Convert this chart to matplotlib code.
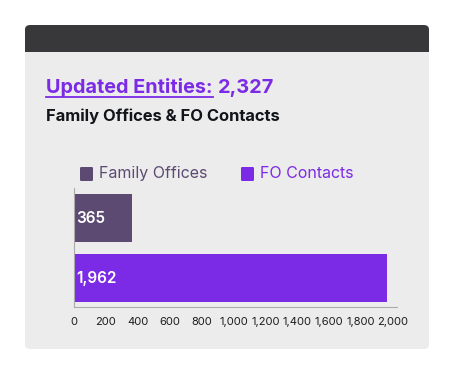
import matplotlib
matplotlib.use("Agg")
import matplotlib.pyplot as plt
from matplotlib.patches import FancyBboxPatch, Rectangle
from matplotlib.ticker import FuncFormatter

plt.rcParams['font.family'] = ['Inter', 'DejaVu Sans']

# data
categories = ['Family Offices', 'FO Contacts']
values = [365, 1962]
colors = ['#5c4a73', '#7b2ae6']
xticks = [0, 200, 400, 600, 800, 1000, 1200, 1400, 1600, 1800, 2000]
total = 2327

W, H = 454, 374
fig = plt.figure(figsize=(W / 100, H / 100), dpi=100)
fig.patch.set_facecolor('white')

def fx(x):
    return x / W

def fy(y):
    return 1 - y / H

# card background (behind the axes)
card = FancyBboxPatch((fx(25), fy(349)), fx(429) - fx(25), fy(25) - fy(349),
                      boxstyle="round,pad=0,rounding_size=0.012",
                      transform=fig.transFigure, facecolor='#ececec', edgecolor='none',
                      zorder=-3)
fig.patches.append(card)
head = FancyBboxPatch((fx(25), fy(62)), fx(429) - fx(25), fy(25) - fy(62),
                      boxstyle="round,pad=0,rounding_size=0.012",
                      transform=fig.transFigure, facecolor='#38383a', edgecolor='none',
                      zorder=-2)
fig.patches.append(head)
fig.patches.append(Rectangle((fx(25), fy(64)), fx(429) - fx(25), fy(52) - fy(64),
                             transform=fig.transFigure, facecolor='#ececec',
                             edgecolor='none', zorder=-1))

# titles
t1 = fig.text(fx(46), fy(93), 'Updated Entities:', color='#7b2ae6', fontsize=14.3,
              fontweight='bold', va='baseline')
fig.canvas.draw()
bb = t1.get_window_extent().transformed(fig.transFigure.inverted())
fig.add_artist(plt.Line2D([bb.x0, bb.x1], [fy(97), fy(97)], color='#7b2ae6', lw=1.3,
                          transform=fig.transFigure))
fig.text(bb.x1 + fx(5), fy(93), f'{total:,}', color='#7b2ae6', fontsize=14.3,
         fontweight='bold', va='baseline')
fig.text(fx(46), fy(121), 'Family Offices & FO Contacts', color='#111418', fontsize=11.9,
         fontweight='bold', va='baseline')

# legend
leg_x = [80, 241]
for x0, lab, col in zip(leg_x, categories, colors):
    fig.patches.append(FancyBboxPatch((fx(x0), fy(181)), fx(13), fy(0) - fy(14),
                                      boxstyle="round,pad=0,rounding_size=0.003",
                                      transform=fig.transFigure, facecolor=col,
                                      edgecolor='none', zorder=1))
    fig.text(fx(x0 + 19), fy(173), lab, color=col, fontsize=11.5, va='center')

# bars
ax = fig.add_axes([fx(74), fy(307), fx(397) - fx(74), fy(188) - fy(307)])
ax.set_facecolor('none')
ypos = list(range(len(values)))
ax.barh(ypos, values, height=0.8, color=colors)
for y, v in zip(ypos, values):
    ax.text(15, y, f'{v:,}', color='white', fontsize=11, fontweight='semibold',
            va='center', ha='left')
ax.set_xlim(0, 2025)
ax.set_ylim(1.48, -0.5)
ax.set_yticks([])
ax.set_xticks(xticks)
ax.xaxis.set_major_formatter(FuncFormatter(lambda v, p: f'{int(v):,}'))
ax.tick_params(axis='x', length=0, pad=7, labelsize=8, labelcolor='#1c1c1c')
for s in ['top', 'right']:
    ax.spines[s].set_visible(False)
ax.spines['left'].set_color('#aaaaaa')
ax.spines['bottom'].set_color('#aaaaaa')

fig.savefig('out.png', dpi=100, facecolor='white')
